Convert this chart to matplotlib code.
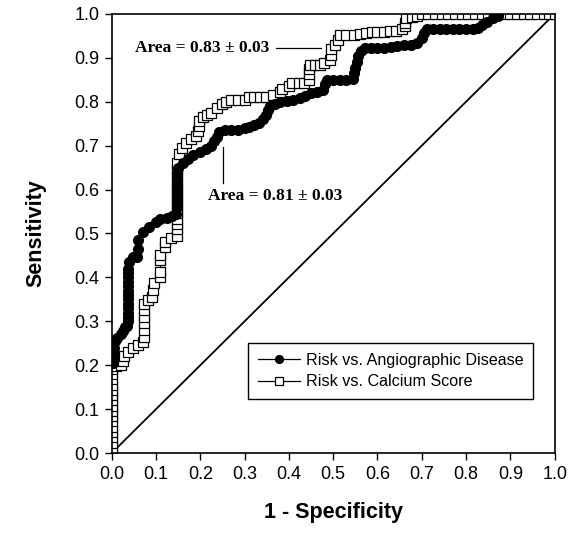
import numpy as np
import matplotlib
matplotlib.use('Agg')
import matplotlib.pyplot as plt

# ROC points: Risk vs. Angiographic Disease (filled circles)
angio_fpr = [0.003, 0.003, 0.005, 0.005, 0.008, 0.012, 0.02, 0.025, 0.03, 0.035,
             0.037, 0.037, 0.037, 0.037, 0.037, 0.037, 0.037, 0.037, 0.037, 0.037,
             0.037, 0.037, 0.037, 0.04, 0.048, 0.058, 0.06, 0.06, 0.07, 0.085,
             0.1, 0.11, 0.125, 0.135, 0.145, 0.147, 0.147, 0.147, 0.147, 0.147,
             0.148, 0.15, 0.16, 0.172, 0.183, 0.2, 0.212, 0.223, 0.23, 0.237,
             0.242, 0.255, 0.27, 0.286, 0.3, 0.31, 0.322, 0.332, 0.342, 0.348,
             0.352, 0.358, 0.368, 0.38, 0.395, 0.41, 0.425, 0.437, 0.449, 0.464,
             0.478, 0.482, 0.485, 0.5, 0.515, 0.53, 0.545, 0.548, 0.55, 0.553,
             0.556, 0.563, 0.572, 0.585, 0.6, 0.615, 0.63, 0.645, 0.66, 0.675,
             0.69, 0.7, 0.704, 0.712, 0.725, 0.74, 0.755, 0.77, 0.785, 0.8,
             0.815, 0.826, 0.836, 0.848, 0.86, 0.872]
angio_sens = [0.205, 0.215, 0.225, 0.24, 0.255, 0.262, 0.27, 0.278, 0.287, 0.29,
              0.30, 0.31, 0.32, 0.33, 0.34, 0.35, 0.36, 0.37, 0.38, 0.39,
              0.40, 0.41, 0.42, 0.435, 0.447, 0.447, 0.465, 0.485, 0.503, 0.515,
              0.527, 0.532, 0.535, 0.54, 0.545, 0.56, 0.575, 0.59, 0.605, 0.62,
              0.635, 0.65, 0.66, 0.67, 0.679, 0.685, 0.692, 0.70, 0.71, 0.72,
              0.731, 0.736, 0.736, 0.736, 0.74, 0.743, 0.747, 0.752, 0.76, 0.77,
              0.782, 0.79, 0.795, 0.80, 0.802, 0.804, 0.808, 0.812, 0.82, 0.822,
              0.827, 0.84, 0.85, 0.85, 0.85, 0.85, 0.852, 0.865, 0.877, 0.89,
              0.905, 0.915, 0.922, 0.922, 0.922, 0.922, 0.924, 0.926, 0.929, 0.93,
              0.934, 0.945, 0.957, 0.965, 0.966, 0.966, 0.966, 0.966, 0.966, 0.966,
              0.966, 0.968, 0.975, 0.982, 0.99, 0.996]

# Risk vs. Calcium Score (open squares)
calc_fpr = [0.0, 0.0, 0.0, 0.0, 0.0, 0.0, 0.0, 0.0, 0.0, 0.0,
            0.0, 0.0, 0.0, 0.0, 0.0, 0.0, 0.0, 0.01, 0.02, 0.025,
            0.028, 0.037, 0.047, 0.06, 0.07, 0.072, 0.072, 0.072, 0.072, 0.072,
            0.072, 0.083, 0.09, 0.094, 0.095, 0.108, 0.11, 0.11, 0.11, 0.12,
            0.12, 0.133, 0.148, 0.148, 0.148, 0.148, 0.148, 0.148, 0.148, 0.148,
            0.148, 0.148, 0.148, 0.148, 0.148, 0.148, 0.152, 0.158, 0.168, 0.178,
            0.19, 0.195, 0.196, 0.196, 0.205, 0.215, 0.225, 0.238, 0.248, 0.258,
            0.27, 0.285, 0.3, 0.31, 0.322, 0.335, 0.348, 0.365, 0.38, 0.385,
            0.4, 0.407, 0.422, 0.433, 0.445, 0.445, 0.445, 0.447, 0.46, 0.47,
            0.48, 0.492, 0.494, 0.495, 0.505, 0.51, 0.516, 0.53, 0.546, 0.56,
            0.573, 0.588, 0.6, 0.615, 0.628, 0.642, 0.655, 0.663, 0.663, 0.665,
            0.677, 0.69, 0.7, 0.715, 0.73, 0.745, 0.76, 0.775, 0.79, 0.805,
            0.82, 0.835, 0.85, 0.862, 0.885, 0.9, 0.915, 0.93, 0.945, 0.96,
            0.975, 0.988, 1.0]
calc_sens = [0.0, 0.012, 0.024, 0.036, 0.048, 0.06, 0.072, 0.084, 0.096, 0.108,
             0.12, 0.132, 0.144, 0.156, 0.168, 0.18, 0.192, 0.198, 0.2, 0.21,
             0.222, 0.23, 0.24, 0.245, 0.252, 0.265, 0.28, 0.295, 0.31, 0.325,
             0.34, 0.348, 0.355, 0.371, 0.387, 0.40, 0.413, 0.44, 0.452, 0.47,
             0.48, 0.49, 0.495, 0.51, 0.522, 0.534, 0.546, 0.558, 0.57, 0.582,
             0.594, 0.606, 0.618, 0.63, 0.645, 0.66, 0.68, 0.695, 0.705, 0.714,
             0.722, 0.733, 0.745, 0.757, 0.765, 0.77, 0.775, 0.785, 0.795, 0.80,
             0.805, 0.805, 0.805, 0.81, 0.81, 0.81, 0.81, 0.815, 0.822, 0.83,
             0.835, 0.842, 0.842, 0.842, 0.85, 0.862, 0.874, 0.883, 0.883, 0.884,
             0.888, 0.895, 0.907, 0.92, 0.93, 0.94, 0.952, 0.952, 0.952, 0.954,
             0.957, 0.959, 0.959, 0.959, 0.96, 0.962, 0.965, 0.972, 0.98, 0.99,
             0.993, 0.995, 1.0, 1.0, 1.0, 1.0, 1.0, 1.0, 1.0, 1.0,
             1.0, 1.0, 1.0, 1.0, 1.0, 1.0, 1.0, 1.0, 1.0, 1.0,
             1.0, 1.0, 1.0]

ticks = [0.0, 0.1, 0.2, 0.3, 0.4, 0.5, 0.6, 0.7, 0.8, 0.9, 1.0]

plt.rcParams['font.family'] = ['Liberation Sans', 'DejaVu Sans']

fig = plt.figure(figsize=(5.73, 5.33), dpi=100)
ax = fig.add_axes([0.195, 0.150, 0.773, 0.824])

# chance line
ax.plot([0, 1], [0, 1], color='black', lw=1.3, zorder=1)

ax.plot(angio_fpr, angio_sens, 'o-', color='black', lw=0.9, ms=7,
        mfc='black', mec='black', label='Risk vs. Angiographic Disease', zorder=3)
ax.plot(calc_fpr, calc_sens, 's-', color='black', lw=0.9, ms=6.6,
        mfc='white', mec='black', mew=0.9, label='Risk vs. Calcium Score', zorder=2)

# annotations
ax.plot([0.37, 0.472], [0.9226, 0.9226], color='black', lw=0.9)
ax.text(0.355, 0.9226, 'Area = 0.83 \u00b1 0.03', ha='right', va='center',
        fontsize=12.5, fontweight='bold', family=['Liberation Serif', 'DejaVu Serif'])
ax.plot([0.251, 0.251], [0.615, 0.697], color='black', lw=0.9)
ax.text(0.218, 0.585, 'Area = 0.81 \u00b1 0.03', ha='left', va='center',
        fontsize=12.5, fontweight='bold', family=['Liberation Serif', 'DejaVu Serif'])

ax.set_xlim(0, 1)
ax.set_ylim(0, 1)
ax.set_xticks(ticks)
ax.set_yticks(ticks)
ax.set_xticklabels(['%.1f' % t for t in ticks])
ax.set_yticklabels(['%.1f' % t for t in ticks])
ax.tick_params(direction='out', length=5, width=1, labelsize=13, pad=4)
for s in ax.spines.values():
    s.set_linewidth(1.2)

ax.set_xlabel('1 - Specificity', fontsize=15.5, fontweight='bold', labelpad=14)
ax.set_ylabel('Sensitivity', fontsize=15.5, fontweight='bold', labelpad=20)

leg = ax.legend(loc='upper left', bbox_to_anchor=(0.308, 0.25), borderaxespad=0,
                numpoints=1, fontsize=11.6, handlelength=2.6, handletextpad=0.4,
                fancybox=False, edgecolor='black', framealpha=1,
                borderpad=0.6, labelspacing=0.4, markerscale=0.8)
leg.get_frame().set_linewidth(1.0)

fig.savefig('out.png', dpi=100)
